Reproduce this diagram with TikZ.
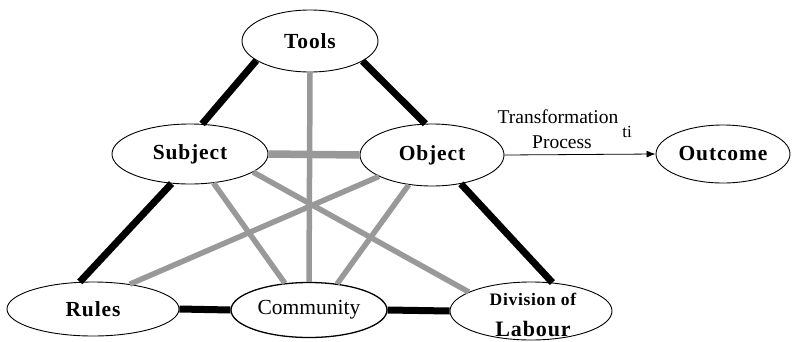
\documentclass[tikz,border=0pt]{standalone}
\usepackage{fontspec}
\setmainfont{Liberation Serif}
\newfontfamily\lblfont[LetterSpace=4]{Liberation Serif}
\usetikzlibrary{arrows.meta,shapes.geometric}
\definecolor{linkgray}{HTML}{999999}
\tikzset{
  ell/.style={draw=black, line width=0.9pt, ellipse, fill=white, inner sep=0pt},
  boldlbl/.style={font=\lblfont\fontsize{21.5}{25}\selectfont\bfseries},
  blackbar/.style={line width=7pt, black},
  graybar/.style={line width=5.5pt, linkgray},
}
\begin{document}
\begin{tikzpicture}[x=1pt,y=-1pt]
\useasboundingbox (0,0) rectangle (795,341);
\node[ell, minimum width=136pt, minimum height=62pt] (tools) at (310,41) {};
\node[ell, minimum width=156pt, minimum height=60pt] (sub) at (190,154) {};
\node[ell, minimum width=144pt, minimum height=62pt] (obj) at (432,155) {};
\node[ell, minimum width=134pt, minimum height=58pt] (out) at (723,154) {};
\node[ell, minimum width=172pt, minimum height=54pt] (rules) at (93,309) {};
\node[ell, line width=1.3pt, minimum width=156pt, minimum height=55pt] (comm) at (309,310) {};
\node[ell, minimum width=162pt, minimum height=58pt] (div) at (531,311) {};

\draw[graybar] (tools.south) -- (comm.north);
\draw[graybar, line width=7.5pt] (sub.east) -- (obj.west);
\draw[graybar] (sub.309) -- (comm.132);
\draw[graybar] (sub.344) -- (div.163);
\draw[graybar] (obj.202) -- (rules.34);
\draw[graybar] (obj.232) -- (comm.43);

\draw[blackbar] (tools.200) -- (sub.68);
\draw[blackbar] (tools.339) -- (obj.102);
\draw[blackbar] (sub.238) -- (rules.116);
\draw[blackbar] (obj.315) -- (div.53);
\draw[blackbar] (rules.east) -- (comm.west);
\draw[blackbar] (comm.east) -- (div.west);

\draw[-{Latex[length=9pt,width=7pt]}, line width=0.8pt] (obj.east) -- (out.west);

\node[boldlbl] (toolst) at (tools.center) {Tools};
\node[boldlbl] (subt) at (sub.center) {Subject};
\node[boldlbl] (objt) at (obj.center) {Object};
\node[boldlbl] (outt) at (out.center) {Outcome};
\node[boldlbl] (rulest) at (rules.center) {Rules};
\node[font=\fontsize{21.5}{25}\selectfont] (commt) at (comm.center) {Community};
\node[font=\lblfont\fontsize{17.5}{20}\selectfont\bfseries] (div1) at (533,299) {Division of};
\node[font=\lblfont\fontsize{22}{25}\selectfont\bfseries] (div2) at (533,329) {Labour};

\node[font=\fontsize{19.5}{23}\selectfont] (tr1) at (558,117) {Transformation};
\node[font=\fontsize{19.5}{23}\selectfont] (tr2) at (562,142) {Process};
\node[font=\fontsize{17}{20}\selectfont] (ti) at (627,132) {ti};
\end{tikzpicture}
\end{document}
